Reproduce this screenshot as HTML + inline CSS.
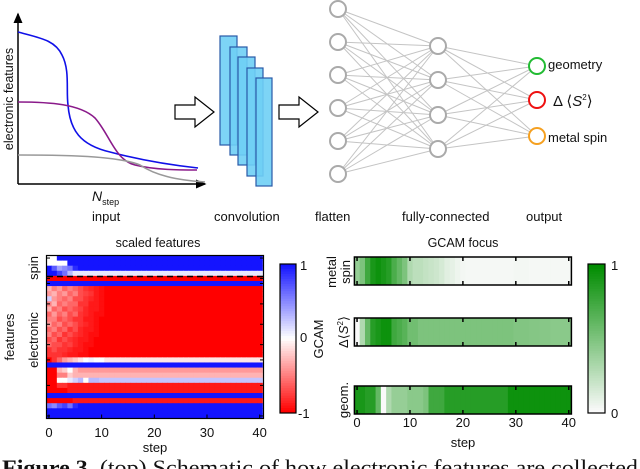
<!DOCTYPE html>
<html><head><meta charset="utf-8"><style>
html,body{margin:0;padding:0;background:#fff;width:640px;height:469px;overflow:hidden}
svg{display:block}
text{font-family:"Liberation Sans",sans-serif;fill:#111}
</style></head><body>
<svg id="fig" width="640" height="469" viewBox="0 0 640 469">
<defs>
<marker id="ah" markerWidth="8" markerHeight="8" refX="6" refY="4" orient="auto"><path d="M0,1 L7,4 L0,7 Z" fill="#000"/></marker>
</defs>
<g>
<line x1="18" y1="184" x2="18" y2="14" stroke="#000" stroke-width="1.5" marker-end="url(#ah)"/>
<line x1="18" y1="184" x2="205" y2="184" stroke="#000" stroke-width="1.5" marker-end="url(#ah)"/>
<path d="M18,32 C40,38 55,40 62,55 C70,70 66,90 68,105 C70,130 80,145 110,152 C140,160 170,165 198,168" fill="none" stroke="#1010e8" stroke-width="1.6"/>
<path d="M18,102 C50,102 80,104 95,118 C110,135 115,160 135,165 C155,170 180,170 197,170" fill="none" stroke="#8a1a8a" stroke-width="1.6"/>
<path d="M18,155 C80,155 120,157 140,165 C155,175 175,180 205,182" fill="none" stroke="#999" stroke-width="1.6"/>
<text transform="translate(13,99) rotate(-90)" text-anchor="middle" font-size="12.5">electronic features</text>
<text x="92" y="201" font-size="14" font-style="italic">N<tspan font-size="9" font-style="normal" dy="4">step</tspan></text>
</g>
<g font-size="13">
<text x="92" y="221">input</text>
<text x="214" y="221">convolution</text>
<text x="315" y="221">flatten</text>
<text x="402" y="221">fully-connected</text>
<text x="526" y="221">output</text>
</g>
<polygon points="175,105 195,105 195,97 214,112 195,127 195,119 175,119" fill="#fff" stroke="#000" stroke-width="1.2"/>
<polygon points="279,105 299,105 299,97 318,112 299,127 299,119 279,119" fill="#fff" stroke="#000" stroke-width="1.2"/>
<g fill="#6fcff5" fill-opacity="0.9" stroke="#2a5aa8" stroke-width="1.2">
<rect x="220" y="36" width="17" height="109"/>
<rect x="230" y="47" width="17" height="108"/>
<rect x="238" y="57" width="17" height="108"/>
<rect x="247" y="68" width="16" height="108"/>
<rect x="256" y="78" width="16" height="108"/>
</g>
<g id="net"></g>
<g font-size="13">
<text x="548" y="69">geometry</text>
<text x="553" y="106" font-size="15">Δ ⟨<tspan font-style="italic">S</tspan><tspan font-size="8" dy="-6">2</tspan><tspan dy="6">⟩</tspan></text>
<text x="548" y="142">metal spin</text>
</g>
<text x="158" y="247" text-anchor="middle" font-size="12.5">scaled features</text>
<g id="heat"></g>
<line x1="47" y1="276.5" x2="263" y2="276.5" stroke="#000" stroke-width="1.5" stroke-dasharray="6,4"/>
<rect x="46.5" y="255.5" width="217" height="163" fill="none" stroke="#000" stroke-width="1.2"/>
<g id="hx" font-size="13"></g>
<text x="155" y="452" text-anchor="middle" font-size="13">step</text>
<text transform="translate(38,268) rotate(-90)" text-anchor="middle" font-size="13">spin</text>
<text transform="translate(38,340) rotate(-90)" text-anchor="middle" font-size="13">electronic</text>
<text transform="translate(14,337) rotate(-90)" text-anchor="middle" font-size="13">features</text>
<g id="cb1"></g>
<text x="300" y="270" font-size="13">1</text>
<text x="300" y="342" font-size="13">0</text>
<text x="298" y="418" font-size="13">-1</text>
<text transform="translate(323,339) rotate(-90)" text-anchor="middle" font-size="13">GCAM</text>
<text x="463" y="247" text-anchor="middle" font-size="12.5">GCAM focus</text>
<g id="strips"></g>
<g id="sx" font-size="13"></g>
<text x="463" y="447" text-anchor="middle" font-size="13">step</text>
<text transform="translate(336,272) rotate(-90)" text-anchor="middle" font-size="13">metal</text>
<text transform="translate(350,272) rotate(-90)" text-anchor="middle" font-size="13">spin</text>
<text transform="translate(348,332) rotate(-90)" text-anchor="middle" font-size="13">Δ⟨<tspan font-style="italic">S</tspan><tspan font-size="8" dy="-5">2</tspan><tspan dy="5">⟩</tspan></text>
<text transform="translate(348,400) rotate(-90)" text-anchor="middle" font-size="13">geom.</text>
<g id="cb2"></g>
<text x="611" y="270" font-size="13">1</text>
<text x="611" y="418" font-size="13">0</text>
<text x="2" y="475" font-size="22" textLength="650" lengthAdjust="spacingAndGlyphs" style="font-family:'Liberation Serif',serif"><tspan font-weight="bold">Figure 3.</tspan> (top) Schematic of how electronic features are collected f</text>
</svg>
<script>
const NS="http://www.w3.org/2000/svg";
const stepTicks=[0,10,20,30,40];
const heatRows=[
[0,0,1,1,1,1,1,1,1,1,1,1],
[0,0,0,0,1,1,1,1,1,1,1,1],
[1,0.7,0.4,0.5,0.6,0.9,1,1,1,1,1,1],
[1,1,0.8,0.6,0.3,0.1,0.1,0.1,0.1,0.1,0.1,0.1],
[-1,-1,-1,-1,-1,-1,-1,-1,-1,-1,-1,-1],
[1,1,1,1,1,1,1,1,1,1,1,1],
[-0.3,-0.5,-0.4,-0.6,-0.5,-0.6,-0.7,-0.8,-0.85,-0.9,-0.95,-1],
[-0.4,-0.3,-0.5,-0.4,-0.6,-0.5,-0.7,-0.75,-0.8,-0.9,-0.95,-1],
[0.2,-0.4,-0.5,-0.6,-0.5,-0.7,-0.7,-0.8,-0.85,-0.9,-0.95,-1],
[-0.5,-0.3,-0.6,-0.5,-0.6,-0.6,-0.8,-0.8,-0.9,-0.9,-0.95,-1],
[-0.3,-0.6,-0.5,-0.7,-0.6,-0.7,-0.75,-0.85,-0.9,-0.9,-0.95,-1],
[-0.6,-0.4,-0.6,-0.5,-0.7,-0.6,-0.8,-0.85,-0.9,-0.95,-0.95,-1],
[-0.5,-0.5,-0.7,-0.6,-0.7,-0.8,-0.8,-0.9,-0.9,-0.95,-1,-1],
[-0.4,-0.6,-0.5,-0.7,-0.6,-0.7,-0.8,-0.85,-0.9,-0.95,-1,-1],
[-0.6,-0.5,-0.7,-0.6,-0.8,-0.7,-0.85,-0.9,-0.9,-0.95,-1,-1],
[-0.5,-0.7,-0.6,-0.8,-0.7,-0.8,-0.85,-0.9,-0.95,-0.95,-1,-1],
[-0.7,-0.6,-0.8,-0.7,-0.8,-0.85,-0.9,-0.9,-0.95,-1,-1,-1],
[-0.6,-0.7,-0.7,-0.8,-0.75,-0.85,-0.9,-0.95,-0.95,-1,-1,-1],
[-0.8,-0.7,-0.8,-0.8,-0.85,-0.9,-0.9,-0.95,-1,-1,-1,-1],
[-0.8,-0.8,-0.8,-0.85,-0.9,-0.9,-0.95,-0.95,-1,-1,-1,-1],
[-1,-0.8,-0.6,-0.4,-0.3,-0.2,-0.1,0,0.05,0,0,-0.1],
[1,1,1,1,1,1,1,1,1,1,1,1],
[-1,-1,-0.3,-0.2,0,-0.3,-0.4,-0.4,-0.4,-0.4,-0.4,-0.4],
[-1,-1,-0.5,-0.5,-0.2,-0.3,-0.3,-0.3,-0.3,-0.3,-0.3,-0.3],
[-1,-1,0,0,0.1,0.2,0.3,0,0.3,0.3,0.25,0.25],
[-1,-1,-0.8,-0.8,-0.9,-0.9,-0.9,-0.9,-0.9,-0.9,-0.9,-0.9],
[-1,-1,-1,-1,-0.9,-0.9,-0.9,-0.9,-0.9,-0.9,-0.9,-0.9],
[1,1,1,1,1,1,1,1,1,1,1,1],
[-1,-1,-1,-1,-1,-0.9,-0.9,-0.9,-0.9,-0.9,-0.9,-0.9],
[0.6,0.5,0.7,0.8,0.6,0.9,1,1,1,1,1,1],
[1,1,1,1,1,1,1,1,1,1,1,1],
[1,1,1,1,1,1,1,1,1,1,1,1]
];
const spinFocus=[0.4,0.5,0.75,0.9,0.95,0.9,0.85,0.7,0.6,0.5,0.3,0.25,0.25,0.22,0.2,0.18,0.15,0.1,0.08,0.05,0.03,0.02,0.02,0.02,0.02,0.02,0.02,0.02,0.02,0.02,0.03,0.03,0.03,0.02,0.02,0.02,0.02,0.02,0.02,0.02,0.02];
const s2Focus=[0,0.3,0.6,0.85,0.9,0.95,0.95,0.75,0.7,0.65,0.55,0.55,0.5,0.5,0.5,0.5,0.5,0.5,0.5,0.5,0.5,0.5,0.5,0.5,0.5,0.5,0.5,0.5,0.5,0.5,0.48,0.48,0.48,0.47,0.47,0.46,0.46,0.45,0.45,0.45,0.45];
const geomFocus=[0.9,0.9,0.85,0.85,0.6,0,0.3,0.4,0.4,0.4,0.45,0.45,0.45,0.5,0.75,0.75,0.75,0.85,0.85,0.85,0.85,0.85,0.85,0.85,0.85,0.85,0.85,0.85,0.85,0.95,0.95,0.95,0.95,0.95,0.95,0.95,0.95,0.95,0.95,0.95,0.95];
const focusSeries=[spinFocus,s2Focus,geomFocus];
const nStep=41;
function mk(tag,attrs,parent){const e=document.createElementNS(NS,tag);for(const k in attrs)e.setAttribute(k,attrs[k]);parent.appendChild(e);return e;}
function bwr(v){v=Math.max(-1,Math.min(1,v));if(v<0){const c=Math.round(255*(1+v));return `rgb(255,${c},${c})`;}const c=Math.round(255*(1-v)+20*v);return `rgb(${c},${c},255)`;}
function grn(v){v=Math.max(0,Math.min(1,v));return `rgb(${Math.round(250-250*v)},${Math.round(250-110*v)},${Math.round(250-250*v)})`;}
const hx0=46.3,hdx=216/41,hy0=255.5,hy1=418.5;
const xHeat=s=>hx0+s*hdx;
const sx0=354.4,sdx=217/41;
const xStrip=s=>sx0+s*sdx;
const net=document.getElementById('net');
const L1=[9,42,75,108,141,174].map(y=>[338,y]);
const L2=[46,80,115,149].map(y=>[438,y]);
const L3=[[537,66,'#22bb33'],[537,100,'#ee1111'],[537,136,'#f5a020']];
L1.forEach(a=>L2.forEach(b=>mk('line',{x1:a[0],y1:a[1],x2:b[0],y2:b[1],stroke:'#c4c4c4','stroke-width':1},net)));
L2.forEach(a=>L3.forEach(b=>mk('line',{x1:a[0],y1:a[1],x2:b[0],y2:b[1],stroke:'#c4c4c4','stroke-width':1},net)));
L1.concat(L2).forEach(p=>{const c=mk('circle',{cx:p[0],cy:p[1],r:8,fill:'#fff',stroke:'#aaa','stroke-width':2},net);

});
L3.forEach(p=>{const c=mk('circle',{cx:p[0],cy:p[1],r:8,fill:'#fff',stroke:p[2],'stroke-width':2},net);

});
const heat=document.getElementById('heat');
const rh=(hy1-hy0)/heatRows.length;
heatRows.forEach((row,r)=>{for(let s=0;s<nStep;s++){const v=row[Math.min(s,row.length-1)];
const c=mk('rect',{x:xHeat(s),y:hy0+r*rh,width:hdx+0.5,height:rh+0.5,fill:bwr(v)},heat);

}});
const hx=document.getElementById('hx');
stepTicks.forEach(t=>{const x=xHeat(t)+hdx/2;
mk('line',{x1:x,y1:hy1,x2:x,y2:hy1-4,stroke:'#000'},hx);
const tx=mk('text',{x:x,y:437,'text-anchor':'middle'},hx);tx.textContent=t;

});
[0,4,5,9,13,17,20,25,31].forEach(r=>{const y=hy0+r*rh+rh/2;mk('line',{x1:46.5,y1:y,x2:50,y2:y,stroke:'#000'},hx);mk('line',{x1:263.5,y1:y,x2:260,y2:y,stroke:'#000'},hx);});
const cb1=document.getElementById('cb1');
for(let i=0;i<60;i++){const v=1-2*i/59;mk('rect',{x:280,y:264+i*149/60,width:16,height:149/60+0.5,fill:bwr(v)},cb1);}
mk('rect',{x:280,y:264,width:16,height:149,fill:'none',stroke:'#000','stroke-width':1.2},cb1);
const cb2=document.getElementById('cb2');
for(let i=0;i<60;i++){const v=1-i/59;mk('rect',{x:588,y:264+i*149/60,width:17,height:149/60+0.5,fill:grn(v)},cb2);}
mk('rect',{x:588,y:264,width:17,height:149,fill:'none',stroke:'#000','stroke-width':1.2},cb2);
const strips=document.getElementById('strips');
const stripY=[257,318,386],stripH=28;
focusSeries.forEach((ser,k)=>{ser.forEach((v,s)=>{const c=mk('rect',{x:xStrip(s),y:stripY[k],width:sdx+0.5,height:stripH,fill:grn(v)},strips);

});
mk('rect',{x:sx0,y:stripY[k],width:217,height:stripH,fill:'none',stroke:'#000','stroke-width':1.5},strips);
stepTicks.forEach(t=>{const x=xStrip(t)+sdx/2;mk('line',{x1:x,y1:stripY[k],x2:x,y2:stripY[k]+4,stroke:'#000','stroke-width':1.5},strips);mk('line',{x1:x,y1:stripY[k]+stripH,x2:x,y2:stripY[k]+stripH-4,stroke:'#000','stroke-width':1.5},strips);});});
const sx=document.getElementById('sx');
stepTicks.forEach(t=>{const tx=mk('text',{x:xStrip(t)+sdx/2,y:427,'text-anchor':'middle'},sx);tx.textContent=t;

});
</script>
</body></html>
